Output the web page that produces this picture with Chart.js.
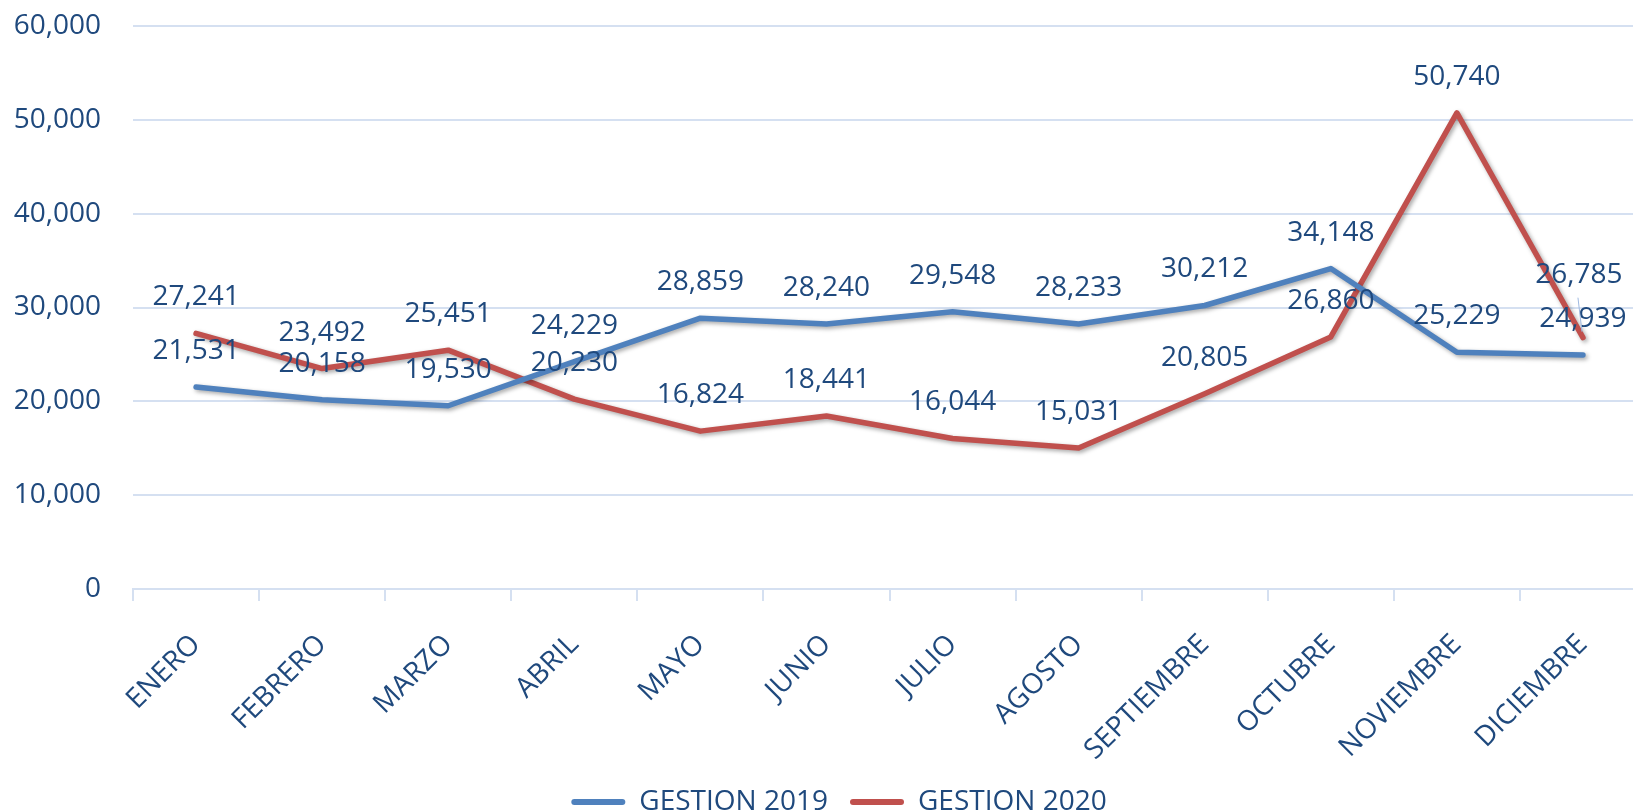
<!DOCTYPE html>
<html><head><meta charset="utf-8">
<script src="https://cdn.jsdelivr.net/npm/chart.js@4.4.1/dist/chart.umd.min.js"></script>
<style>
html,body{margin:0;padding:0;overflow:hidden;background:#fff;width:1633px;height:812px}
#wrap{position:absolute;left:0;top:0;width:1646px;height:826px}
</style></head><body>
<div id="wrap"><canvas id="c" width="1646" height="826"></canvas></div>
<script>
const categories = ['ENERO','FEBRERO','MARZO','ABRIL','MAYO','JUNIO','JULIO','AGOSTO','SEPTIEMBRE','OCTUBRE','NOVIEMBRE','DICIEMBRE'];
const gestion2019 = [21531,20158,19530,24229,28859,28240,29548,28233,30212,34148,25229,24939];
const gestion2020 = [27241,23492,25451,20230,16824,18441,16044,15031,20805,26860,50740,26785];
const seriesNames = ['GESTION 2019','GESTION 2020'];
const yMin = 0, yMax = 60000, yStep = 10000;

const TEXT = '#1f497d';
const GRID = '#d5e0f1';
const BLUE = '#4f81bd';
const RED = '#c0504d';
const FONT = {family:'"Open Sans", sans-serif', size:28};

const fmt = v => Number(v).toLocaleString('en-US');

const shadowPlugin = {
  id:'shadow',
  beforeDatasetDraw(chart){ const c=chart.ctx; c.save(); c.shadowColor='rgba(0,0,0,0.35)'; c.shadowBlur=4; c.shadowOffsetX=2; c.shadowOffsetY=2; },
  afterDatasetDraw(chart){ chart.ctx.restore(); }
};

const labelPlugin = {
  id:'valueLabels',
  afterDatasetsDraw(chart, args, opts){
    const c = chart.ctx;
    c.save();
    c.font = `${FONT.size}px ${FONT.family}`;
    c.fillStyle = TEXT;
    c.textAlign = 'center';
    c.textBaseline = 'middle';
    chart.data.datasets.forEach((ds, di) => {
      const meta = chart.getDatasetMeta(di);
      meta.data.forEach((pt, i) => {
        const ov = (opts.overrides||[]).find(o => o.ds===di && o.i===i);
        const dx = ov ? ov.dx : 0, dy = ov ? ov.dy : -opts.offset;
        if (ov && ov.leader) {
          c.save(); c.strokeStyle = '#9fb9e0'; c.lineWidth = 1;
          c.beginPath(); c.moveTo(pt.x+ov.leader[0], pt.y+ov.leader[1]); c.lineTo(pt.x+ov.leader[2], pt.y+ov.leader[3]); c.stroke(); c.restore();
        }
        c.fillText(fmt(ds.data[i]), pt.x + dx, pt.y + dy);
      });
    });
    c.restore();
  }
};

const legendShift = {
  id:'legendShift',
  beforeDraw(chart, args, opts){
    const lg = chart.legend;
    if (lg && !lg._shifted){ lg.left += opts.dx; lg.right += opts.dx; lg._shifted = true; }
  }
};

new Chart(document.getElementById('c'), {
  type:'line',
  data:{
    labels: categories,
    datasets:[
      {label:seriesNames[0], data:gestion2019, borderColor:BLUE, backgroundColor:BLUE, borderWidth:5.5, pointRadius:0, tension:0, borderCapStyle:'round', borderJoinStyle:'round'},
      {label:seriesNames[1], data:gestion2020, borderColor:RED, backgroundColor:RED, borderWidth:5.5, pointRadius:0, tension:0, borderCapStyle:'round', borderJoinStyle:'round'}
    ]
  },
  options:{
    responsive:false, devicePixelRatio:1, animation:false,
    layout:{padding:{top:26, left:0, right:0, bottom:0}},
    scales:{
      x:{
        offset:true,
        grid:{drawOnChartArea:false, drawTicks:true, tickLength:12, color:GRID, lineWidth:2, offset:true},
        border:{color:GRID, width:2},
        ticks:{font:FONT, color:TEXT, maxRotation:45, minRotation:45, autoSkip:false, padding:27},
        afterFit(s){ s.height = 177; }
      },
      y:{
        min:yMin, max:yMax,
        grid:{color:GRID, lineWidth:2, drawTicks:true, tickLength:32, tickColor:'rgba(0,0,0,0)'},
        border:{display:false},
        ticks:{stepSize:yStep, font:FONT, color:TEXT, padding:0, callback:v=>fmt(v)},
        afterFit(s){ s.width = 133; }
      }
    },
    plugins:{
      legend:{
        position:'bottom',
        labels:{
          font:FONT, color:TEXT, boxWidth:54, boxHeight:6, padding:22, useBorderRadius:true, borderRadius:3,
          generateLabels(chart){
            const items = Chart.defaults.plugins.legend.labels.generateLabels(chart);
            items.forEach(it => { it.fillStyle = it.strokeStyle; it.lineWidth = 0; });
            return items;
          }
        }
      },
      tooltip:{enabled:false},
      valueLabels:{offset:36, overrides:[{ds:1, i:11, dx:-4, dy:-63, leader:[-5,-40,-1,-6]}]},
      legendShift:{dx:16}
    }
  },
  plugins:[shadowPlugin, labelPlugin, legendShift]
});
</script>
</body></html>
